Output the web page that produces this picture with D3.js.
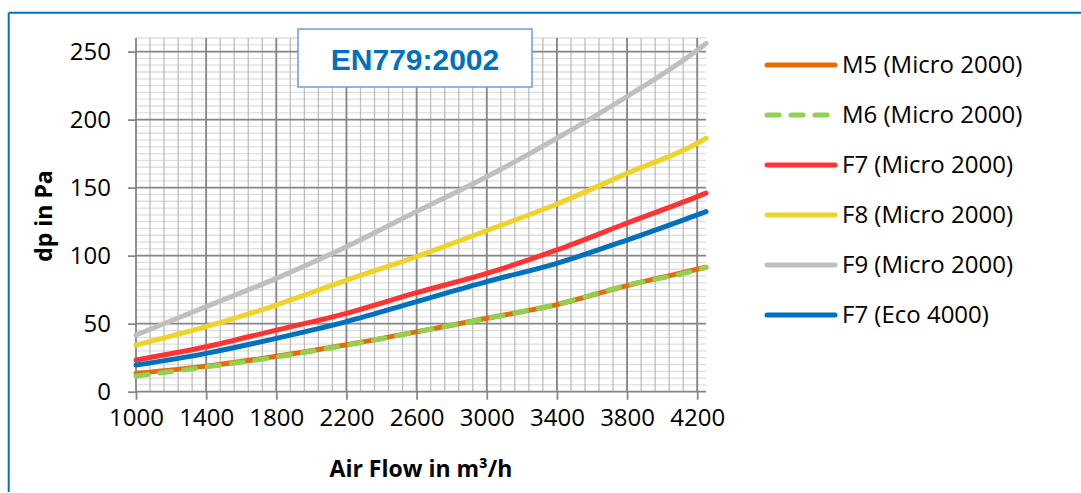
<!DOCTYPE html>
<html>
<head>
<meta charset="utf-8">
<script src="https://cdn.jsdelivr.net/npm/d3@7"></script>
<style>
  body { margin: 0; background: #fff; }
  svg { display: block; font-family: "Open Sans", sans-serif; }
</style>
</head>
<body>
<svg id="chart" width="1081" height="493"></svg>
<script>
  // data
  const flow = [1000, 1400, 1800, 2200, 2600, 3000, 3400, 3800, 4200, 4250];
  const m5   = [13.5, 18.8, 26, 34.5, 44, 54, 64, 78, 90, 91.5];
  const m6   = [11.5, 18.2, 25.5, 34.2, 44, 53.8, 64.2, 78.3, 89.5, 91.4];
  const f7   = [23.3, 33, 45.3, 57.6, 72.8, 87, 104.2, 124, 143.4, 146];
  const f8   = [34.3, 47.8, 63.7, 82, 99.3, 118.5, 138, 160.5, 182.6, 186.3];
  const f9   = [41.7, 62.5, 83.3, 106.6, 132.4, 158, 186.3, 217, 251, 256];
  const eco  = [19.6, 28.2, 39.2, 51.5, 66.2, 80.9, 94.4, 111.5, 130, 132.4];

  const names  = ["M5 (Micro 2000)", "M6 (Micro 2000)", "F7 (Micro 2000)", "F8 (Micro 2000)", "F9 (Micro 2000)", "F7 (Eco 4000)"];
  const values = [m5, m6, f7, f8, f9, eco];
  const colors = ["#E46C0A", "#92D050", "#FF3333", "#F0D32A", "#BFBFBF", "#0070C0"];
  const dashed = [false, true, false, false, false, false];

  const xTicks = [1000, 1400, 1800, 2200, 2600, 3000, 3400, 3800, 4200];
  const yTicks = [0, 50, 100, 150, 200, 250];

  const svg = d3.select("#chart");

  const x = d3.scaleLinear().domain([1000, 4250]).range([136, 706]);
  const y = d3.scaleLinear().domain([0, 260]).range([391.7, 38]);

  // frame
  svg.append("line").attr("x1", 8.7).attr("x2", 8.7).attr("y1", 12.7).attr("y2", 492)
    .attr("stroke", "#0070C0").attr("stroke-width", 2);
  svg.append("line").attr("x1", 8.7).attr("x2", 1081).attr("y1", 12.7).attr("y2", 12.7)
    .attr("stroke", "#0070C0").attr("stroke-width", 2);

  // grid
  const grid = svg.append("g");
  grid.selectAll(".hmin").data(d3.range(0, 261, 5)).enter().append("line")
    .attr("x1", x(1000)).attr("x2", x(4250))
    .attr("y1", d => y(d)).attr("y2", d => y(d))
    .attr("stroke", "#DEDEDE").attr("stroke-width", 1.3);
  grid.selectAll(".vmin").data(d3.range(1000, 4250, 80)).enter().append("line")
    .attr("x1", d => x(d)).attr("x2", d => x(d))
    .attr("y1", y(0)).attr("y2", y(260))
    .attr("stroke", "#BDBDBD").attr("stroke-width", 1.3);
  grid.selectAll(".hmaj").data(yTicks).enter().append("line")
    .attr("x1", x(1000)).attr("x2", x(4250))
    .attr("y1", d => y(d)).attr("y2", d => y(d))
    .attr("stroke", "#878787").attr("stroke-width", 1.8);
  grid.selectAll(".vmaj").data(xTicks).enter().append("line")
    .attr("x1", d => x(d)).attr("x2", d => x(d))
    .attr("y1", y(0)).attr("y2", y(260))
    .attr("stroke", "#878787").attr("stroke-width", 1.8);

  // axes
  const xAxis = svg.append("g")
    .attr("transform", "translate(0," + y(0) + ")")
    .call(d3.axisBottom(x).tickValues(xTicks).tickFormat(d3.format("d"))
      .tickSize(8).tickPadding(9).tickSizeOuter(0));
  const yAxis = svg.append("g")
    .attr("transform", "translate(" + x(1000) + ",0)")
    .call(d3.axisLeft(y).tickValues(yTicks).tickSize(8).tickPadding(17).tickSizeOuter(0));
  [xAxis, yAxis].forEach(a => {
    a.select(".domain").remove();
    a.selectAll(".tick line").attr("stroke", "#878787").attr("stroke-width", 1.8);
    a.selectAll(".tick text").attr("font-family", "Open Sans").attr("font-size", 24).attr("fill", "#000");
  });

  // series
  const line = d3.line().x((d, i) => x(flow[i])).y(d => y(d)).curve(d3.curveMonotoneX);
  values.forEach((vals, k) => {
    svg.append("path")
      .attr("d", line(vals))
      .attr("fill", "none")
      .attr("stroke", colors[k])
      .attr("stroke-width", 5)
      .attr("stroke-linecap", "round")
      .attr("stroke-dasharray", dashed[k] ? "12,12" : null);
  });

  // title box
  svg.append("rect").attr("x", 298).attr("y", 29).attr("width", 234).attr("height", 58)
    .attr("fill", "#fff").attr("stroke", "#6A9FDC").attr("stroke-width", 1.5);
  svg.append("text").attr("x", 415).attr("y", 69.5).attr("text-anchor", "middle")
    .attr("font-family", "Liberation Sans, Arial, sans-serif").attr("font-weight", "bold")
    .attr("font-size", 30).attr("fill", "#0070C0").text("EN779:2002");

  // axis titles
  svg.append("text").attr("transform", "translate(52,216) rotate(-90)")
    .attr("text-anchor", "middle").attr("font-weight", "bold").attr("font-size", 23)
    .text("dp in Pa");
  svg.append("text").attr("x", 421).attr("y", 477).attr("text-anchor", "middle")
    .attr("font-weight", "bold").attr("font-size", 23)
    .text("Air Flow in m³/h");

  // legend
  const legend = svg.append("g");
  names.forEach((n, k) => {
    const ly = 65 + k * 50;
    legend.append("line").attr("x1", 767).attr("x2", 835).attr("y1", ly).attr("y2", ly)
      .attr("stroke", colors[k]).attr("stroke-width", 5).attr("stroke-linecap", "round")
      .attr("stroke-dasharray", dashed[k] ? "12,12" : null);
    legend.append("text").attr("x", 842).attr("y", ly).attr("dy", "0.35em")
      .attr("font-size", 24).text(n);
  });
</script>
</body>
</html>
